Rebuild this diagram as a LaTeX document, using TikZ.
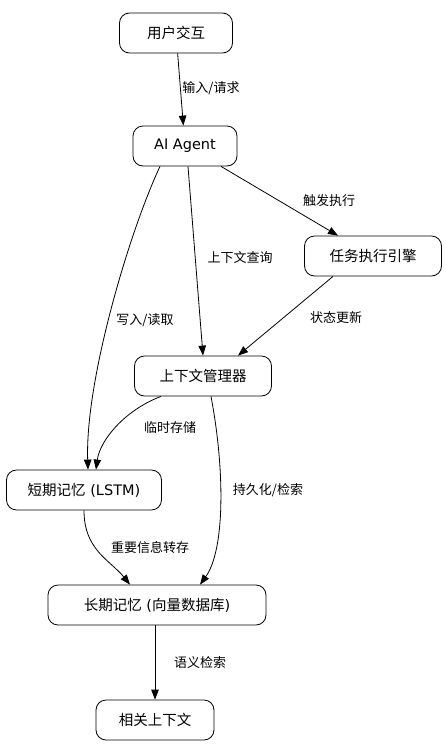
\documentclass[tikz,border=0pt]{standalone}
\usepackage{fontspec}
\setmainfont{DejaVu Sans}
\newfontfamily\cjk{Noto Sans CJK SC}
\usetikzlibrary{arrows.meta}
\begin{document}
\begin{tikzpicture}[x=1pt,y=-1pt,
  box/.style={draw, rounded corners=10pt, font=\fontsize{14.5}{16}\selectfont, inner sep=0pt, minimum height=40pt, line width=0.8pt},
  lbl/.style={font=\fontsize{13}{15}\selectfont, inner sep=1pt},
  arr/.style={-{Triangle[length=10pt,width=7.5pt]}, line width=0.8pt}]
\useasboundingbox (0,0) rectangle (446,755);
\node[box, minimum width=113pt] (user) at (176,33) {\cjk 用户交互};
\node[box, minimum width=104pt] (agent) at (185,146) {AI Agent};
\node[box, minimum width=137pt] (task) at (373,256) {\cjk 任务执行引擎};
\node[box, minimum width=137pt] (ctx) at (203,376) {\cjk 上下文管理器};
\node[box, minimum width=155pt] (stm) at (84,490) {{\cjk 短期记忆} (LSTM)};
\node[box, minimum width=218pt] (ltm) at (157,605) {{\cjk 长期记忆} ({\cjk 向量数据库})};
\node[box, minimum width=118pt] (out) at (155,720) {\cjk 相关上下文};

\draw[arr] (user) -- (agent);
\draw[arr] ([xshift=36pt]agent.south) -- ([xshift=-35pt]task.north);
\draw[arr] ([xshift=3pt]agent.south) -- (ctx.north);
\draw[arr] ([xshift=-25pt]agent.south) .. controls (130,230) and (85,380) .. ([xshift=4pt]stm.north);
\draw[arr] ([xshift=-40pt]task.south) -- ([xshift=35pt]ctx.north);
\draw[arr] ([xshift=-42pt]ctx.south) .. controls (125,410) and (100,440) .. ([xshift=12pt]stm.north);
\draw[arr] ([xshift=8pt]ctx.south) .. controls (225,470) and (225,550) .. ([xshift=43pt]ltm.north);
\draw[arr] (stm.south) .. controls (84,550) and (110,560) .. ([xshift=-27pt]ltm.north);
\draw[arr] ([xshift=-2pt]ltm.south) -- (out.north);

\node[lbl] (l1) at (211,88) {\cjk 输入/请求};
\node[lbl] (l2) at (329,201) {\cjk 触发执行};
\node[lbl] (l3) at (240,258) {\cjk 上下文查询};
\node[lbl] (l4) at (145,320) {\cjk 写入/读取};
\node[lbl] (l5) at (336,318) {\cjk 状态更新};
\node[lbl] (l6) at (170,428) {\cjk 临时存储};
\node[lbl] (l7) at (268,490) {\cjk 持久化/检索};
\node[lbl] (l8) at (150,548) {\cjk 重要信息转存};
\node[lbl] (l9) at (200,663) {\cjk 语义检索};
\end{tikzpicture}
\end{document}
